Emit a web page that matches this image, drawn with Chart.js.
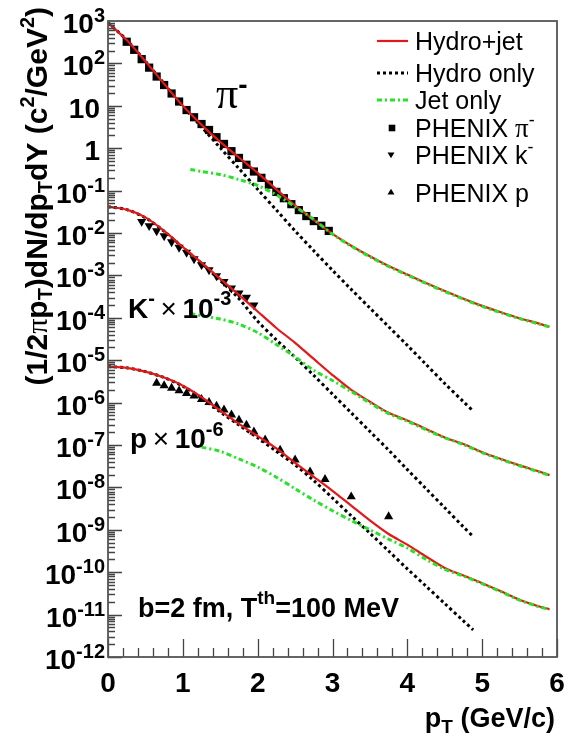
<!DOCTYPE html>
<html>
<head>
<meta charset="utf-8">
<script src="https://cdn.jsdelivr.net/npm/chart.js@4.4.0/dist/chart.umd.min.js"></script>
<style>
  html, body { margin: 0; padding: 0; background: #fff; }
  canvas { display: block; }
</style>
</head>
<body>
<canvas id="app" width="574" height="739"></canvas>
<script>
// pT grids (GeV/c)
const ptFull = [0, 0.25, 0.5, 0.75, 1, 1.25, 1.5, 1.75, 2, 2.25, 2.5, 2.75, 3, 3.25, 3.5, 3.75, 4, 4.25, 4.5, 4.75, 5, 5.25, 5.5, 5.75, 5.9];
const ptHydro = [0, 0.25, 0.5, 0.75, 1, 1.25, 1.5, 1.75, 2, 2.25, 2.5, 2.75, 3, 3.25, 3.5, 3.75, 4, 4.25, 4.5, 4.75, 4.88];
const ptJet = [1.1, 1.25, 1.5, 1.75, 2, 2.25, 2.5, 2.75, 3, 3.25, 3.5, 3.75, 4, 4.25, 4.5, 4.75, 5, 5.25, 5.5, 5.75, 5.9];

// pi-
const pionHydroJet = [912, 355, 112, 33.1, 10.0, 3.55, 1.41, 0.603, 0.263, 0.107, 0.0447, 0.0204, 9.55e-3, 5.01e-3, 2.82e-3, 1.66e-3, 1.05e-3, 6.61e-4, 4.27e-4, 2.82e-4, 1.91e-4, 1.35e-4, 9.77e-5, 7.41e-5, 6.17e-5];
const pionHydro = [912, 355, 112, 33.1, 9.77, 3.16, 1.02, 0.331, 0.107, 0.0347, 0.0112, 3.80e-3, 1.32e-3, 4.68e-4, 1.70e-4, 6.17e-5, 2.24e-5, 7.94e-6, 2.82e-6, 1.05e-6, 6.31e-7];
const pionJet = [0.316, 0.282, 0.240, 0.182, 0.132, 0.0794, 0.0417, 0.0209, 9.33e-3, 4.90e-3, 2.75e-3, 1.62e-3, 1.02e-3, 6.46e-4, 4.17e-4, 2.75e-4, 1.86e-4, 1.32e-4, 9.55e-5, 7.24e-5, 6.03e-5];
const pionDataPt = [0.25, 0.35, 0.45, 0.55, 0.65, 0.75, 0.85, 0.95, 1.05, 1.15, 1.25, 1.35, 1.45, 1.55, 1.65, 1.75, 1.85, 1.95, 2.05, 2.15, 2.25, 2.35, 2.45, 2.55, 2.65, 2.75, 2.85, 2.95];
const pionData = [324, 209, 126, 79.4, 49.0, 30.9, 19.5, 12.6, 7.94, 5.37, 3.72, 2.69, 1.82, 1.26, 0.851, 0.589, 0.407, 0.282, 0.200, 0.138, 0.0933, 0.0661, 0.0479, 0.0347, 0.0251, 0.0191, 0.0148, 0.0112];

// K- x 10^-3
const kaonHydroJet = [0.0417, 0.0355, 0.0234, 0.0112, 4.68e-3, 2.00e-3, 8.32e-4, 3.47e-4, 1.41e-4, 5.75e-5, 2.57e-5, 1.07e-5, 4.47e-6, 2.00e-6, 1.05e-6, 5.75e-7, 3.80e-7, 2.40e-7, 1.51e-7, 1.05e-7, 6.76e-8, 4.68e-8, 3.31e-8, 2.40e-8, 1.95e-8];
const kaonHydro = [0.0417, 0.0355, 0.0229, 0.0110, 4.57e-3, 1.91e-3, 7.59e-4, 2.82e-4, 8.32e-5, 3.02e-5, 1.17e-5, 4.37e-6, 1.58e-6, 5.75e-7, 2.09e-7, 7.59e-8, 2.63e-8, 9.33e-9, 3.31e-9, 1.17e-9, 6.92e-10];
const kaonJet = [1.26e-4, 1.12e-4, 9.33e-5, 7.08e-5, 4.47e-5, 2.34e-5, 1.20e-5, 5.75e-6, 3.31e-6, 1.82e-6, 9.77e-7, 5.50e-7, 3.63e-7, 2.29e-7, 1.48e-7, 1.02e-7, 6.61e-8, 4.57e-8, 3.24e-8, 2.34e-8, 1.91e-8];
const kaonDataPt = [0.45, 0.55, 0.65, 0.75, 0.85, 0.95, 1.05, 1.15, 1.25, 1.35, 1.45, 1.55, 1.65, 1.75, 1.85, 1.95];
const kaonData = [0.0186, 0.0148, 0.0112, 8.51e-3, 6.17e-3, 4.57e-3, 3.47e-3, 2.45e-3, 1.78e-3, 1.35e-3, 9.77e-4, 7.08e-4, 5.01e-4, 3.80e-4, 3.02e-4, 2.00e-4];

// p x 10^-6
const protonHydroJet = [7.08e-6, 6.61e-6, 5.37e-6, 3.89e-6, 2.51e-6, 1.35e-6, 6.46e-7, 3.16e-7, 1.62e-7, 8.32e-8, 3.80e-8, 1.78e-8, 8.32e-9, 3.72e-9, 1.66e-9, 7.94e-10, 4.47e-10, 2.34e-10, 1.26e-10, 8.32e-11, 5.50e-11, 3.55e-11, 2.24e-11, 1.58e-11, 1.35e-11];
const protonHydro = [7.08e-6, 6.61e-6, 5.37e-6, 3.89e-6, 2.45e-6, 1.29e-6, 6.03e-7, 2.95e-7, 1.48e-7, 7.08e-8, 3.39e-8, 1.45e-8, 5.62e-9, 2.14e-9, 8.32e-10, 3.16e-10, 1.20e-10, 4.68e-11, 1.82e-11, 7.08e-12, 4.37e-12];
const protonJet = [null, 8.91e-8, 7.08e-8, 4.68e-8, 3.02e-8, 1.74e-8, 9.33e-9, 5.01e-9, 2.82e-9, 1.66e-9, 1.00e-9, 6.03e-10, 3.72e-10, 2.00e-10, 1.17e-10, 8.13e-11, 5.37e-11, 3.47e-11, 2.19e-11, 1.55e-11, 1.32e-11];
const protonDataPt = [0.65, 0.75, 0.85, 0.95, 1.05, 1.15, 1.25, 1.35, 1.45, 1.55, 1.65, 1.75, 1.85, 1.95, 2.1, 2.3, 2.5, 2.7, 2.9, 3.25, 3.75];
const protonData = [2.88e-6, 2.51e-6, 2.19e-6, 1.91e-6, 1.66e-6, 1.45e-6, 1.20e-6, 1.02e-6, 8.32e-7, 6.76e-7, 5.13e-7, 3.89e-7, 2.95e-7, 2.04e-7, 1.32e-7, 7.59e-8, 4.47e-8, 2.34e-8, 1.55e-8, 6.03e-9, 2.04e-9];

const xTicks = [0, 1, 2, 3, 4, 5, 6];
const yExponents = [3, 2, 1, 0, -1, -2, -3, -4, -5, -6, -7, -8, -9, -10, -11, -12];

const RED = 'rgb(228,24,24)';
const GREEN = 'rgb(40,226,40)';
const SANS = '"Liberation Sans", Arial, Helvetica, sans-serif';
const SERIF = '"Liberation Serif", "Times New Roman", serif';
const B = s => `bold ${s}px ${SANS}`;

const pts = (xs, ys) => xs.map((x, i) => ({ x, y: ys[i] })).filter(p => p.y != null);

const lineSet = (label, xs, ys, kind) => {
  const ds = {
    label, data: pts(xs, ys), showLine: true, pointRadius: 0, tension: 0.3, fill: false,
  };
  if (kind === 'red') Object.assign(ds, { borderColor: RED, borderWidth: 2.2, order: 1 });
  if (kind === 'black') Object.assign(ds, { borderColor: '#000', borderWidth: 3, borderDash: [3, 3], order: 2 });
  if (kind === 'green') Object.assign(ds, { borderColor: GREEN, borderWidth: 3, borderDash: [5, 3, 2, 3], order: 0 });
  return ds;
};

const markerSet = (label, xs, ys, style, rotation, radius) => ({
  label, data: pts(xs, ys), showLine: false, pointStyle: style, rotation,
  pointRadius: radius, backgroundColor: '#000', borderColor: '#000', borderWidth: 0, order: 3,
});

const datasets = [
  lineSet('Hydro+jet pi', ptFull, pionHydroJet, 'red'),
  lineSet('Hydro only pi', ptHydro, pionHydro, 'black'),
  lineSet('Jet only pi', ptJet, pionJet, 'green'),
  markerSet('PHENIX pi-', pionDataPt, pionData, 'rect', 0, 5.8),
  lineSet('Hydro+jet K', ptFull, kaonHydroJet, 'red'),
  lineSet('Hydro only K', ptHydro, kaonHydro, 'black'),
  lineSet('Jet only K', ptJet, kaonJet, 'green'),
  markerSet('PHENIX k-', kaonDataPt, kaonData, 'triangle', 180, 5.3),
  lineSet('Hydro+jet p', ptFull, protonHydroJet, 'red'),
  lineSet('Hydro only p', ptHydro, protonHydro, 'black'),
  lineSet('Jet only p', ptJet, protonJet, 'green'),
  markerSet('PHENIX p', protonDataPt, protonData, 'triangle', 0, 5.3),
];

// draw a run of text pieces [text, font, dy]
function drawParts(ctx, parts, x, y, align) {
  let w = 0;
  parts.forEach(p => { ctx.font = p[1]; w += ctx.measureText(p[0]).width; });
  let cx = align === 'right' ? x - w : align === 'center' ? x - w / 2 : x;
  parts.forEach(p => {
    ctx.font = p[1];
    ctx.fillText(p[0], cx, y + (p[2] || 0));
    cx += ctx.measureText(p[0]).width;
  });
  return w;
}

function marker(ctx, style, x, y, r) {
  ctx.beginPath();
  if (style === 'rect') {
    ctx.rect(x - r, y - r, 2 * r, 2 * r);
  } else if (style === 'down') {
    ctx.moveTo(x - r, y - r * 0.7); ctx.lineTo(x + r, y - r * 0.7); ctx.lineTo(x, y + r * 0.9);
  } else {
    ctx.moveTo(x - r, y + r * 0.7); ctx.lineTo(x + r, y + r * 0.7); ctx.lineTo(x, y - r * 0.9);
  }
  ctx.closePath();
  ctx.fill();
}

const decor = {
  id: 'decor',
  afterDraw(chart) {
    const ctx = chart.ctx;
    const { left, right, top, bottom } = chart.chartArea;
    const xs = chart.scales.x, ys = chart.scales.y;
    ctx.save();

    // ticks (inside)
    ctx.strokeStyle = '#444';
    ctx.lineWidth = 1.3;
    ctx.beginPath();
    for (let n = -12; n <= 2; n++) {
      for (let m = 1; m <= 9; m++) {
        const py = Math.round(ys.getPixelForValue(m * Math.pow(10, n))) + 0.5;
        const len = m === 1 ? 14 : 7;
        ctx.moveTo(left, py); ctx.lineTo(left + len, py);
      }
    }
    for (let k = 0; k <= 30; k++) {
      const v = k * 0.2;
      const px = Math.round(xs.getPixelForValue(v)) + 0.5;
      const len = k % 5 === 0 ? 18 : 9;
      ctx.moveTo(px, bottom); ctx.lineTo(px, bottom - len);
    }
    ctx.stroke();

    // frame
    ctx.strokeStyle = '#555';
    ctx.lineWidth = 1.8;
    ctx.strokeRect(left, top, right - left, bottom - top);

    ctx.fillStyle = '#000';
    ctx.textBaseline = 'alphabetic';

    // y tick labels
    yExponents.forEach(n => {
      const py = ys.getPixelForValue(Math.pow(10, n));
      if (n === 1) drawParts(ctx, [['10', B(28)]], 100, py + 12, 'right');
      else if (n === 0) drawParts(ctx, [['1', B(28)]], 100, py + 12, 'right');
      else drawParts(ctx, [['10', B(28)], [String(n), B(20), -11]], 105, py + 12, 'right');
    });

    // x tick labels
    xTicks.forEach(v => {
      drawParts(ctx, [[String(v), B(28)]], xs.getPixelForValue(v), 692, 'center');
    });

    // x title
    drawParts(ctx, [['p', B(27)], ['T', B(19), 6], [' (GeV/c)', B(27)]], 555, 727, 'right');

    // y title
    ctx.save();
    ctx.translate(47, 7);
    ctx.rotate(-Math.PI / 2);
    drawParts(ctx, [
      ['(1/2', B(30)], ['\u03c0', `30px ${SERIF}`], ['p', B(30)], ['T', B(20), 5],
      [')dN/dp', B(30)], ['T', B(20), 5], ['dY (c', B(30)], ['2', B(20), -13],
      ['/GeV', B(30)], ['2', B(20), -13], [')', B(30)],
    ], 0, 0, 'right');
    ctx.restore();

    // species annotations
    drawParts(ctx, [['\u03c0', `44px ${SERIF}`], ['-', `bold 28px ${SANS}`, -14]], 216, 108, 'left');
    drawParts(ctx, [['K', B(28)], ['-', B(20), -13], ['\u2009\u00d7\u2009', `28px ${SANS}`], ['10', B(28)], ['-3', B(20), -13]], 128, 318, 'left');
    drawParts(ctx, [['p', B(28)], ['\u2009\u00d7\u2009', `28px ${SANS}`], ['10', B(28)], ['-6', B(20), -12]], 130, 448, 'left');
    drawParts(ctx, [['b=2 fm, T', B(27)], ['th', B(19), -13], ['=100 MeV', B(27)]], 138, 617, 'left');

    // legend
    const lx0 = 377, lx1 = 408, tx = 415;
    ctx.lineWidth = 2.2; ctx.strokeStyle = RED; ctx.setLineDash([]);
    ctx.beginPath(); ctx.moveTo(lx0, 41); ctx.lineTo(lx1, 41); ctx.stroke();
    ctx.lineWidth = 3; ctx.strokeStyle = '#000'; ctx.setLineDash([3, 3]);
    ctx.beginPath(); ctx.moveTo(lx0, 73); ctx.lineTo(lx1, 73); ctx.stroke();
    ctx.strokeStyle = GREEN; ctx.setLineDash([5, 3, 2, 3]);
    ctx.beginPath(); ctx.moveTo(lx0, 100); ctx.lineTo(lx1, 100); ctx.stroke();
    ctx.setLineDash([]);
    ctx.fillStyle = '#000';
    marker(ctx, 'rect', 392, 128, 3.3);
    marker(ctx, 'down', 391, 155, 3.5);
    marker(ctx, 'up', 391, 192, 3.5);

    const LF = `25px ${SANS}`;
    drawParts(ctx, [['Hydro+jet', LF]], tx, 50, 'left');
    drawParts(ctx, [['Hydro only', LF]], tx, 81.5, 'left');
    drawParts(ctx, [['Jet only', LF]], tx, 108.5, 'left');
    drawParts(ctx, [['PHENIX ', LF], ['\u03c0', `27px ${SERIF}`], ['-', `18px ${SANS}`, -11]], tx, 136.5, 'left');
    drawParts(ctx, [['PHENIX k', LF], ['-', `18px ${SANS}`, -11]], tx, 164, 'left');
    drawParts(ctx, [['PHENIX p', LF]], tx, 201.5, 'left');

    ctx.restore();
  }
};

new Chart(document.getElementById('app'), {
  type: 'scatter',
  data: { datasets },
  options: {
    responsive: false,
    maintainAspectRatio: false,
    animation: false,
    layout: { padding: { top: 21, right: 17, left: 0, bottom: 0 } },
    plugins: { legend: { display: false }, tooltip: { enabled: false } },
    scales: {
      x: {
        type: 'linear', min: 0, max: 6,
        grid: { display: false }, border: { display: false }, ticks: { display: false },
        afterFit: s => { s.height = 82; },
      },
      y: {
        type: 'logarithmic', min: 1e-12, max: 1e3,
        grid: { display: false }, border: { display: false }, ticks: { display: false },
        afterFit: s => { s.width = 108; },
      },
    },
  },
  plugins: [decor],
});
</script>
</body>
</html>
